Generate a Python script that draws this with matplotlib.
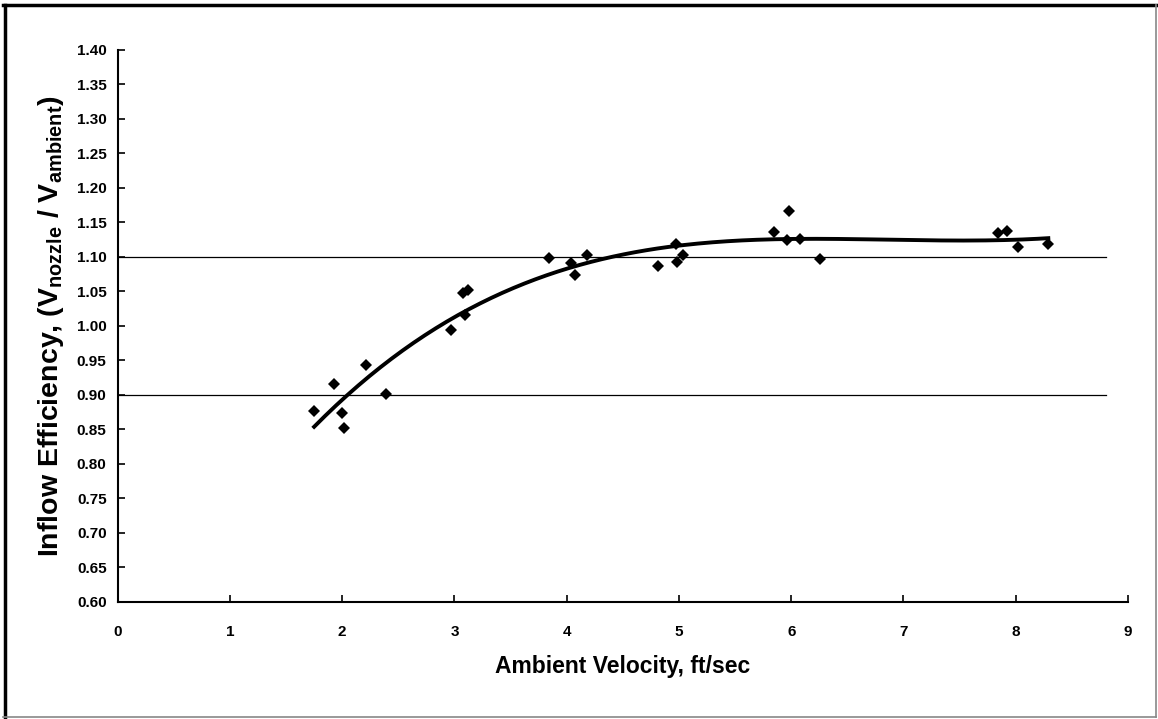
import numpy as np
import matplotlib
matplotlib.use('Agg')
import matplotlib.pyplot as plt
from matplotlib.lines import Line2D

# measured points
velocity = [1.75, 1.93, 2.00, 2.02, 2.21, 2.39, 2.97, 3.08, 3.09, 3.12,
            3.84, 4.04, 4.07, 4.18, 4.81, 4.97, 4.98, 5.04,
            5.85, 5.96, 5.98, 6.08, 6.26, 7.84, 7.92, 8.02, 8.29]
efficiency = [0.877, 0.915, 0.873, 0.852, 0.943, 0.901, 0.994, 1.047, 1.016, 1.052,
              1.099, 1.091, 1.074, 1.103, 1.087, 1.119, 1.093, 1.103,
              1.136, 1.125, 1.167, 1.126, 1.097, 1.134, 1.138, 1.114, 1.119]
band_levels = [0.90, 1.10]
band_xmax = 8.8
trend_order = 3

x_ticks = list(range(0, 10))
y_ticks = [round(0.60 + 0.05 * i, 2) for i in range(17)]

plt.rcParams['font.family'] = ['Liberation Sans', 'DejaVu Sans']
plt.rcParams['mathtext.fontset'] = 'custom'
plt.rcParams['mathtext.rm'] = 'Liberation Sans:bold'
plt.rcParams['mathtext.it'] = 'Liberation Sans:bold'
plt.rcParams['mathtext.bf'] = 'Liberation Sans:bold'

fig = plt.figure(figsize=(11.58, 7.19), dpi=100)
ax = fig.add_axes([0.1016, 0.1631, 0.8725, 0.7674])

for lvl in band_levels:
    ax.plot([0, band_xmax], [lvl, lvl], color='black', lw=0.9, zorder=1)

# polynomial trendline through the measured points
coef = np.polyfit(velocity, efficiency, trend_order)
xs = np.linspace(min(velocity), max(velocity), 200)
ax.plot(xs, np.polyval(coef, xs), color='black', lw=2.8, zorder=2)

ax.plot(velocity, efficiency, 'D', color='black', ms=6.6, mew=0, zorder=3)

ax.set_xlim(0, 9)
ax.set_ylim(0.60, 1.40)
ax.set_xticks(x_ticks)
ax.set_yticks(y_ticks)
ax.set_yticklabels(['%.2f' % v for v in y_ticks])
for side in ['top', 'right']:
    ax.spines[side].set_visible(False)
for side in ['left', 'bottom']:
    ax.spines[side].set_linewidth(1.5)
ax.tick_params(axis='both', direction='in', length=5, width=1.2, labelsize=11)
ax.tick_params(axis='x', pad=17)
ax.tick_params(axis='y', pad=8)
for lab in ax.get_xticklabels() + ax.get_yticklabels():
    lab.set_fontweight('bold')

ax.set_xlabel('Ambient Velocity, ft/sec', fontsize=16.5, fontweight='bold', labelpad=11)
ax.set_ylabel(r'Inflow Efficiency, (V$_{\mathrm{nozzle}}$ / V$_{\mathrm{ambient}}$)',
              fontsize=20.5, fontweight='bold', labelpad=8)

# chart frame
fig.add_artist(Line2D([0.004, 0.004], [0.003, 0.993], color='black', lw=2.5, transform=fig.transFigure))
fig.add_artist(Line2D([0.003, 0.998], [0.993, 0.993], color='black', lw=2.5, transform=fig.transFigure))
fig.add_artist(Line2D([0.998, 0.998], [0.003, 0.993], color='#888888', lw=1.2, transform=fig.transFigure))
fig.add_artist(Line2D([0.003, 0.998], [0.003, 0.003], color='#888888', lw=1.2, transform=fig.transFigure))

fig.savefig('out.png', dpi=100)
